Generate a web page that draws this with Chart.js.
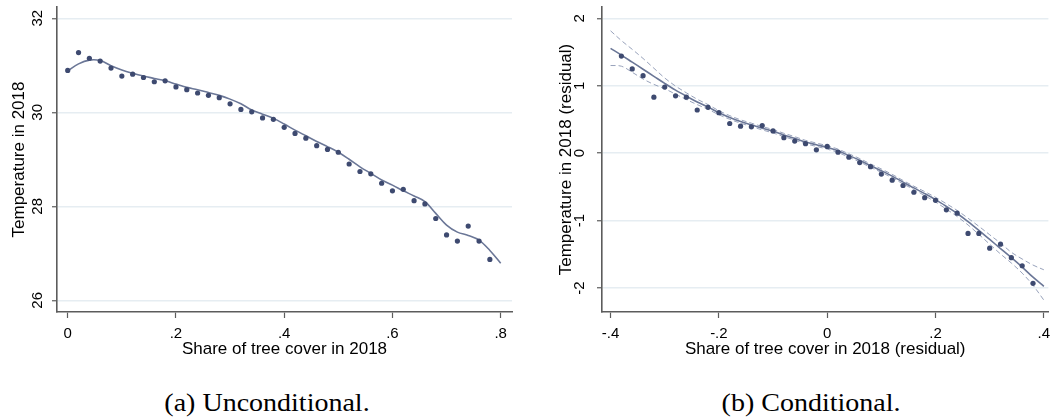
<!DOCTYPE html>
<html>
<head>
<meta charset="utf-8">
<script src="https://cdn.jsdelivr.net/npm/chart.js@4/dist/chart.umd.min.js"></script>
<style>
html,body{margin:0;padding:0;background:#fff;width:1051px;height:417px;overflow:hidden;position:relative;}
#ca{position:absolute;left:0;top:0;}
#cb{position:absolute;left:530px;top:0;}
.cap{position:absolute;top:390px;font-family:'Liberation Serif','Times New Roman',serif;font-size:25px;line-height:25px;white-space:nowrap;color:#000;transform:translateX(-50%) scaleX(1.12);transform-origin:center;}
</style>
</head>
<body>
<canvas id="ca" width="525" height="366"></canvas>
<canvas id="cb" width="521" height="366"></canvas>
<div class="cap" id="capA" style="left:267px">(a) Unconditional.</div>
<div class="cap" id="capB" style="left:811px">(b) Conditional.</div>
<script>
// ---------- Panel (a): unconditional ----------
const shareA = [0,0.02,0.04,0.06,0.08,0.10,0.12,0.14,0.16,0.18,0.20,0.22,0.24,0.26,0.28,0.30,0.32,0.34,0.36,0.38,0.40,0.42,0.44,0.46,0.48,0.50,0.52,0.54,0.56,0.58,0.60,0.62,0.64,0.66,0.68,0.70,0.72,0.74,0.76,0.78];
const tempA = [30.89,31.27,31.15,31.09,30.94,30.77,30.81,30.74,30.65,30.67,30.54,30.48,30.41,30.36,30.31,30.18,30.06,30.01,29.88,29.85,29.68,29.55,29.45,29.29,29.21,29.15,28.90,28.74,28.69,28.49,28.33,28.36,28.12,28.05,27.74,27.39,27.26,27.58,27.26,26.87];
const fitShareA = [0,0.02,0.04,0.06,0.08,0.10,0.12,0.14,0.16,0.18,0.20,0.22,0.24,0.26,0.28,0.30,0.32,0.34,0.36,0.38,0.40,0.42,0.44,0.46,0.48,0.50,0.52,0.54,0.56,0.58,0.60,0.62,0.64,0.66,0.68,0.70,0.72,0.74,0.76,0.78,0.80];
const fitTempA = [30.88,31.03,31.11,31.10,30.99,30.90,30.83,30.77,30.72,30.67,30.60,30.53,30.48,30.42,30.36,30.28,30.18,30.05,29.96,29.87,29.75,29.62,29.50,29.38,29.27,29.15,29.00,28.84,28.70,28.56,28.45,28.33,28.22,28.10,27.85,27.60,27.45,27.38,27.28,27.06,26.79];
const xTicksA = [0,0.2,0.4,0.6,0.8];
const xLabelsA = ['0','.2','.4','.6','.8'];
const yTicksA = [26,28,30,32];
const yLabelsA = ['26','28','30','32'];

// ---------- Panel (b): conditional ----------
const shareB = [-0.38,-0.36,-0.34,-0.32,-0.30,-0.28,-0.26,-0.24,-0.22,-0.20,-0.18,-0.16,-0.14,-0.12,-0.10,-0.08,-0.06,-0.04,-0.02,0,0.02,0.04,0.06,0.08,0.10,0.12,0.14,0.16,0.18,0.20,0.22,0.24,0.26,0.28,0.30,0.32,0.34,0.36,0.38];
const tempB = [1.44,1.25,1.15,0.83,0.98,0.85,0.83,0.64,0.68,0.60,0.44,0.40,0.39,0.41,0.33,0.23,0.18,0.14,0.05,0.10,0.015,-0.06,-0.14,-0.20,-0.31,-0.40,-0.48,-0.58,-0.66,-0.70,-0.84,-0.89,-1.19,-1.19,-1.41,-1.35,-1.55,-1.67,-1.93];
const fitShareB = [-0.40,-0.38,-0.36,-0.34,-0.32,-0.30,-0.28,-0.26,-0.24,-0.22,-0.20,-0.18,-0.16,-0.14,-0.12,-0.10,-0.08,-0.06,-0.04,-0.02,0,0.02,0.04,0.06,0.08,0.10,0.12,0.14,0.16,0.18,0.20,0.22,0.24,0.26,0.28,0.30,0.32,0.34,0.36,0.38,0.40];
const fitTempB = [1.555,1.455,1.35,1.245,1.14,1.035,0.935,0.845,0.76,0.685,0.60,0.53,0.47,0.42,0.37,0.325,0.27,0.22,0.165,0.125,0.085,0.035,-0.035,-0.105,-0.185,-0.26,-0.34,-0.43,-0.515,-0.60,-0.69,-0.79,-0.895,-1.015,-1.145,-1.28,-1.415,-1.55,-1.69,-1.84,-1.975];
const upperB = [1.815,1.67,1.54,1.405,1.26,1.115,0.995,0.895,0.80,0.72,0.63,0.557,0.495,0.445,0.395,0.35,0.295,0.245,0.19,0.15,0.11,0.06,-0.01,-0.08,-0.16,-0.235,-0.315,-0.405,-0.49,-0.57,-0.655,-0.75,-0.85,-0.965,-1.085,-1.21,-1.335,-1.47,-1.57,-1.66,-1.73];
const lowerB = [1.30,1.29,1.20,1.10,1.02,0.955,0.875,0.795,0.72,0.65,0.57,0.503,0.445,0.395,0.345,0.30,0.245,0.195,0.14,0.10,0.06,0.01,-0.06,-0.13,-0.21,-0.285,-0.365,-0.455,-0.54,-0.63,-0.725,-0.83,-0.94,-1.065,-1.205,-1.35,-1.495,-1.63,-1.78,-1.96,-2.18];
const xTicksB = [-0.4,-0.2,0,0.2,0.4];
const xLabelsB = ['-.4','-.2','0','.2','.4'];
const yTicksB = [-2,-1,0,1,2];
const yLabelsB = ['-2','-1','0','1','2'];

// ---------- styling ----------
const POINT = '#3e4a70';
const LINE = '#6b7797';
const BAND = '#8c97b3';
const AXIS = '#5c5c5c';
const GRID = '#e6edf2';
const FONT = "'Liberation Sans', Arial, sans-serif";

function pts(xs, ys){ return xs.map((x,i)=>({x:x, y:ys[i]})); }

function makeChart(id, cfg){
  const ds = [
    {type:'scatter', data: pts(cfg.sx, cfg.sy), showLine:false, pointRadius:2.6, pointHoverRadius:2.6,
     pointBackgroundColor:POINT, pointBorderColor:POINT, pointBorderWidth:0, order:1}
  ];
  ds.push({type:'line', data: pts(cfg.fx, cfg.fy), borderColor:LINE, borderWidth:1.6, pointRadius:0, tension:0.35, fill:false, order:2});
  if (cfg.up){
    ds.push({type:'line', data: pts(cfg.fx, cfg.up), borderColor:BAND, borderWidth:0.9, borderDash:[5,3], pointRadius:0, tension:0.35, fill:false, order:3});
    ds.push({type:'line', data: pts(cfg.fx, cfg.lo), borderColor:BAND, borderWidth:0.9, borderDash:[5,3], pointRadius:0, tension:0.35, fill:false, order:3});
  }
  return new Chart(document.getElementById(id), {
    type:'scatter',
    data:{datasets:ds},
    options:{
      responsive:false, animation:false, devicePixelRatio:1,
      layout:{padding:{left:0, top:7, right:cfg.padRight, bottom:0}},
      plugins:{legend:{display:false}, tooltip:{enabled:false}},
      scales:{
        x:{
          type:'linear', position:'bottom', min:cfg.xmin, max:cfg.xmax,
          afterBuildTicks:(s)=>{ s.ticks = cfg.xt.map(v=>({value:v})); },
          afterFit:(s)=>{ s.height = 54; s.paddingLeft=0; s.paddingRight=0; s.paddingTop=0; s.paddingBottom=0; },
          ticks:{autoSkip:false, maxRotation:0, minRotation:0, padding:6.6, color:'#000',
                 font:{family:FONT, size:15}, callback:(v,i)=>cfg.xl[i]},
          grid:{drawOnChartArea:false, drawTicks:true, tickLength:6, tickColor:AXIS, tickWidth:1.2},
          border:{display:true, color:AXIS, width:1.6},
          title:{display:true, text:cfg.xtitle, color:'#000', font:{family:FONT, size:17}, padding:{top:0,bottom:6.1}}
        },
        y:{
          type:'linear', position:'left', min:cfg.ymin, max:cfg.ymax,
          afterBuildTicks:(s)=>{ s.ticks = cfg.yt.map(v=>({value:v})); },
          afterFit:(s)=>{ s.width = cfg.yw; s.paddingLeft=0; s.paddingRight=0; s.paddingTop=0; s.paddingBottom=0; },
          ticks:{autoSkip:false, minRotation:90, maxRotation:90, crossAlign:'center', padding:cfg.ytPad, color:'#000',
                 font:{family:FONT, size:15}, callback:(v,i)=>cfg.yl[i]},
          grid:{drawOnChartArea:true, color:GRID, lineWidth:1.5, drawTicks:true, tickLength:5, tickColor:AXIS, tickWidth:1.2},
          border:{display:true, color:AXIS, width:1.6},
          title:{display:true, text:cfg.ytitle, color:'#000', font:{family:FONT, size:17}, padding:{top:cfg.ytitlePad,bottom:0}}
        }
      }
    }
  });
}

makeChart('ca', {
  sx:shareA, sy:tempA, fx:fitShareA, fy:fitTempA,
  xmin:-0.0198, xmax:0.8209, ymin:25.751, ymax:32.24,
  xt:xTicksA, xl:xLabelsA, yt:yTicksA, yl:yLabelsA,
  xtitle:'Share of tree cover in 2018', ytitle:'Temperature in 2018',
  padRight:13, yw:57, ytPad:5.6, ytitlePad:9.5
});
makeChart('cb', {
  sx:shareB, sy:tempB, fx:fitShareB, fy:fitTempB, up:upperB, lo:lowerB,
  xmin:-0.4158, xmax:0.4084, ymin:-2.356, ymax:2.168,
  xt:xTicksB, xl:xLabelsB, yt:yTicksB, yl:yLabelsB,
  xtitle:'Share of tree cover in 2018 (residual)', ytitle:'Temperature in 2018 (residual)',
  padRight:0, yw:72, ytPad:10.5, ytitlePad:26
});
</script>
</body>
</html>
